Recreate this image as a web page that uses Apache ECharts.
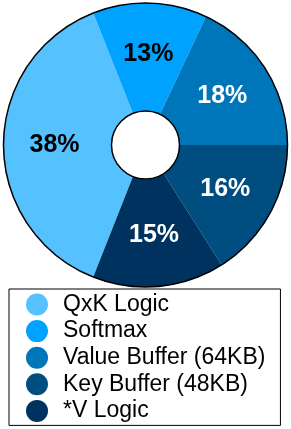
<!DOCTYPE html>
<html>
<head>
<meta charset="utf-8">
<style>
html,body{margin:0;padding:0;background:#fff;}
#chart{width:291px;height:429px;}
</style>
<script src="https://cdn.jsdelivr.net/npm/echarts@6/dist/echarts.min.js"></script>
</head>
<body>
<div id="chart"></div>
<script>
var categories = ['QxK Logic', 'Softmax', 'Value Buffer (64KB)', 'Key Buffer (48KB)', '*V Logic'];
var values = [38, 13, 18, 16, 15];
var colors = ['#56C1FF', '#00A2FF', '#0076BA', '#004D80', '#00325F'];
var labelColors = ['#000', '#000', '#fff', '#fff', '#fff'];

var chart = echarts.init(document.getElementById('chart'), null, {renderer: 'canvas'});
var FONT = '"Liberation Sans", Arial, Helvetica, sans-serif';

var data = categories.map(function (c, i) {
  return {
    name: c,
    value: values[i],
    itemStyle: {color: colors[i]},
    label: {color: labelColors[i]}
  };
});

chart.setOption({
  animation: false,
  backgroundColor: '#fff',
  legend: {
    data: categories,
    orient: 'vertical',
    left: 9,
    top: 289,
    padding: [4, 15, 3, 17],
    itemGap: 3.6,
    itemWidth: 22,
    itemHeight: 22,
    icon: 'circle',
    borderColor: '#000',
    borderWidth: 1,
    textStyle: {
      fontFamily: FONT,
      fontSize: 23,
      color: '#000',
      lineHeight: 22,
      padding: [0, 0, 0, 10]
    },
    selectedMode: false
  },
  series: [
    {
      type: 'pie',
      center: [145.5, 145],
      radius: [34, 142],
      startAngle: 248.4,
      clockwise: true,
      silent: true,
      data: data,
      itemStyle: {borderWidth: 0},
      label: {
        show: true,
        position: 'inside',
        formatter: '{c}%',
        fontFamily: FONT,
        fontSize: 25,
        fontWeight: 'bold'
      },
      labelLine: {show: false}
    },
    {
      type: 'pie',
      center: [145.5, 145],
      radius: [34, 142],
      silent: true,
      z: 5,
      data: [{name: '__outline', value: 1}],
      itemStyle: {color: 'rgba(0,0,0,0)', borderColor: '#000', borderWidth: 1.5},
      label: {show: false},
      labelLine: {show: false},
      emphasis: {disabled: true}
    }
  ]
});
</script>
</body>
</html>
